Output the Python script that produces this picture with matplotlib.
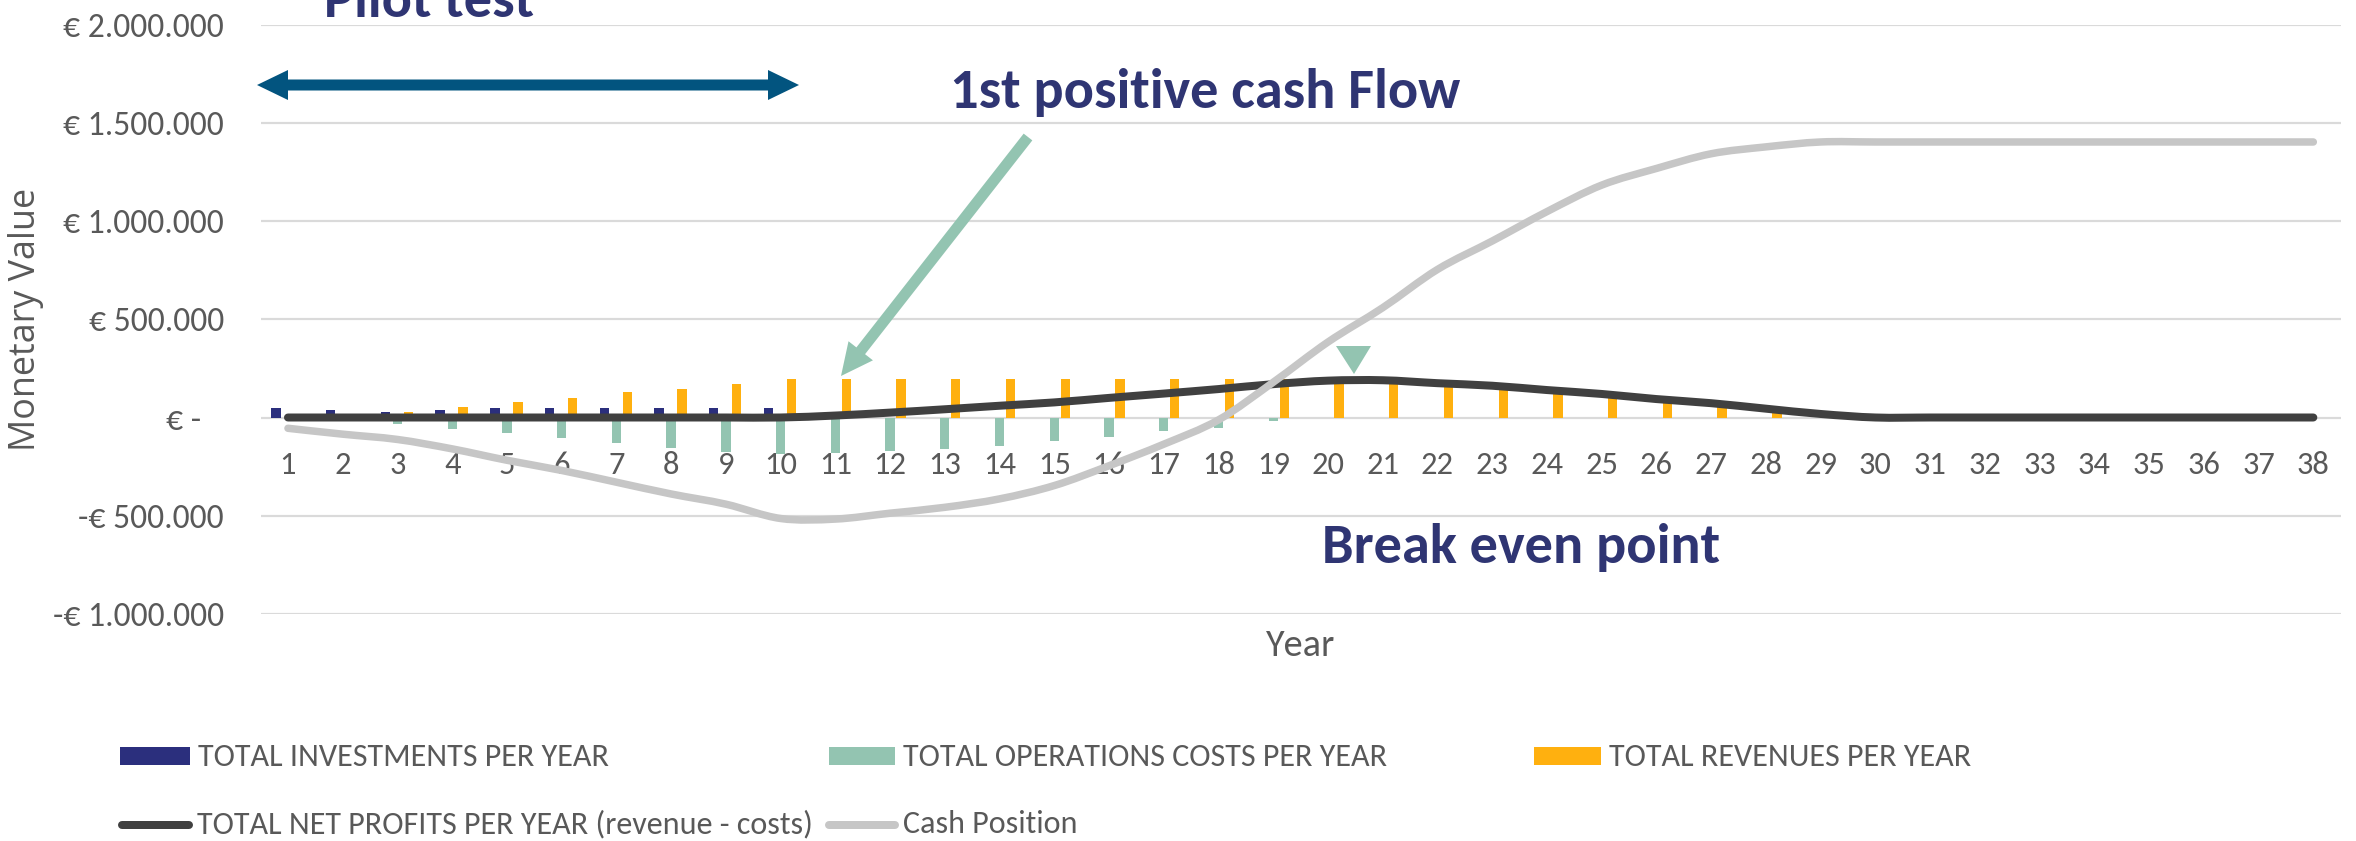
import numpy as np
import matplotlib
matplotlib.use("Agg")
import matplotlib.pyplot as plt
from matplotlib import font_manager as fm
from matplotlib.textpath import TextToPath
from matplotlib.patches import Polygon, Rectangle, PathPatch
from matplotlib.lines import Line2D
from matplotlib.path import Path

# ---------------- data (values in thousands of euro) ----------------
years = list(range(1, 39))
investments = [46, 37, 29, 39, 47, 47, 47, 47, 47, 47,
               0, 0, 0, 0, 0, 0, 0, 0, 0, 0,
               0, 0, 0, 0, 0, 0, 0, 0, 0, 0,
               0, 0, 0, 0, 0, 0, 0, 0]
operations_costs = [0, 0, -34, -59, -78, -105, -128, -157, -178, -187,
                    -180, -170, -161, -144, -119, -98, -68, -51, -20, 0,
                    0, 0, 0, 0, 0, 0, 0, 0, 0, 0,
                    0, 0, 0, 0, 0, 0, 0, 0]
revenues = [0, 0, 28, 51, 80, 98, 130, 147, 170, 197,
            197, 197, 197, 197, 197, 197, 197, 197, 197, 197,
            197, 175, 162, 140, 120, 94, 73, 45, 18, 0,
            0, 0, 0, 0, 0, 0, 0, 0]
net_profits = [0, 0, 0, 0, 0, 0, 0, 0, 0, 0,
               10, 25, 42, 60, 77, 100, 122, 145, 170, 188,
               190, 175, 162, 140, 120, 94, 73, 45, 18, 0,
               0, 0, 0, 0, 0, 0, 0, 0]
cash_position = [-55, -85, -112, -160, -218, -270, -330, -390, -442, -515,
                 -518, -488, -458, -415, -347, -246, -136, -12, 180, 385,
                 560, 755, 900, 1050, 1185, 1270, 1345, 1380, 1405, 1405,
                 1405, 1405, 1405, 1405, 1405, 1405, 1405, 1405]
ytick_values = [-1000, -500, 0, 500, 1000, 1500, 2000]
ytick_labels = ["-€ 1.000.000", "-€ 500.000", "€ -   ", "€ 500.000",
                "€ 1.000.000", "€ 1.500.000", "€ 2.000.000"]
xtick_labels = [str(y) for y in years]
legend_labels = ["TOTAL INVESTMENTS PER YEAR", "TOTAL OPERATIONS COSTS PER YEAR",
                 "TOTAL REVENUES PER YEAR",
                 "TOTAL NET PROFITS PER YEAR (revenue - costs)", "Cash Position"]
annotations = ["Pilot test", "1st positive cash Flow", "Break even point"]
x_title = "Year"
y_title = "Monetary Value"

# ---------------- style ----------------
NAVY = "#2B2F7D"
TEAL = "#93C4B1"
ORANGE = "#FFB00F"
NET = "#404040"
CASH = "#C6C6C6"
GRID = "#DADADA"
TXT = "#595959"
ANN = "#2F3573"
DARROW = "#02547F"

W, H = 2356, 841
PT = 0.72  # points per pixel at dpi 100

available = {f.name for f in fm.fontManager.ttflist}
def pick(*names):
    for n in names:
        if n in available:
            return n
    return "DejaVu Sans"

REG = pick("Carlito", "Lato", "Open Sans", "DejaVu Sans")
YLF = pick("Open Sans", "Liberation Sans", "DejaVu Sans")

ttp = TextToPath()
def fit(text, prop, target_px):
    p = prop.copy()
    p.set_size(40)
    w, h, d = ttp.get_text_width_height_descent(text, p, ismath=False)
    return 40 * target_px * PT / w

reg_prop = fm.FontProperties(family=REG)
bold_prop = fm.FontProperties(family=REG, weight="bold")
yl_prop = fm.FontProperties(family=YLF)

ytick_size = fit("€ 2.000.000", reg_prop, 161)
xtick_size = fit("38", reg_prop, 33)
legend_size = fit(legend_labels[0], reg_prop, 412)
xtitle_size = fit(x_title, reg_prop, 69)
ytitle_size = fit(y_title, yl_prop, 263)
ann_size = fit(annotations[1], bold_prop, 510)

fig = plt.figure(figsize=(W / 100, H / 100), dpi=100)
x_left, x_right = 260.6, 2340.7
y_top, y_bot = 25.3, 613.6
ax = fig.add_axes([x_left / W, 1 - y_bot / H, (x_right - x_left) / W, (y_bot - y_top) / H])

yrs = np.array(years, dtype=float)
k = 1000.0
bw = 0.17
ax.bar(yrs - 0.22, np.array(investments) * k, width=bw, color=NAVY, zorder=2)
ax.bar(yrs, np.array(operations_costs) * k, width=bw, color=TEAL, zorder=2)
ax.bar(yrs + 0.20, np.array(revenues) * k, width=bw, color=ORANGE, zorder=2)


def smooth_path(x, y):
    """Excel-style smoothed line: cubic Bezier through every data point."""
    x = np.asarray(x, float)
    y = np.asarray(y, float)
    pts = np.column_stack([x, y])
    n = len(pts)
    verts = [pts[0]]
    codes = [Path.MOVETO]
    for i in range(n - 1):
        p0 = pts[i - 1] if i > 0 else pts[i]
        p1 = pts[i]
        p2 = pts[i + 1]
        p3 = pts[i + 2] if i + 2 < n else pts[i + 1]
        c1 = p1 + (p2 - p0) / 6.0
        c2 = p2 - (p3 - p1) / 6.0
        verts += [c1, c2, p2]
        codes += [Path.CURVE4] * 3
    return Path(verts, codes)


for series, color, lw, z in [(net_profits, NET, 8, 3), (cash_position, CASH, 7.5, 4)]:
    patch = PathPatch(smooth_path(yrs, np.array(series) * k), facecolor="none",
                      edgecolor=color, lw=lw * PT, capstyle="round", joinstyle="round",
                      zorder=z)
    ax.add_patch(patch)

ax.set_xlim(0.5, 38.5)
ax.set_ylim(-1000 * k, 2000 * k)
ax.set_yticks(np.array(ytick_values) * k)
ax.set_yticklabels(ytick_labels)
ax.set_xticks(yrs)
ax.set_xticklabels(xtick_labels)
for s in ax.spines.values():
    s.set_visible(False)
ax.spines["bottom"].set_position(("data", 0))
ax.grid(axis="y", color=GRID, lw=2.2 * PT, zorder=0)
ax.set_axisbelow(True)
ax.tick_params(axis="y", length=0, pad=36.6 * PT, colors=TXT)
ax.tick_params(axis="x", length=0, pad=33 * PT, colors=TXT)
for lbl in ax.get_yticklabels():
    lbl.set_fontproperties(reg_prop)
    lbl.set_fontsize(ytick_size)
for lbl in ax.get_xticklabels():
    lbl.set_fontproperties(reg_prop)
    lbl.set_fontsize(xtick_size)

ax.set_xlabel(x_title, fontproperties=reg_prop, fontsize=xtitle_size, color=TXT)
ax.xaxis.label.set_va("center")
ax.xaxis.set_label_coords(0.5, (y_bot - 645) / (y_bot - y_top))
ax.set_ylabel(y_title, fontproperties=yl_prop, fontsize=ytitle_size, color=TXT)
ax.yaxis.label.set_va("center")
ax.yaxis.set_label_coords((26 - x_left) / (x_right - x_left), (y_bot - 319) / (y_bot - y_top))

def F(pts):
    return [(x / W, 1 - y / H) for x, y in pts]

def arrow_poly(p0, p1, sw, hw, hl):
    p0 = np.array(p0, float); p1 = np.array(p1, float)
    d = p1 - p0
    u = d / np.linalg.norm(d)
    n = np.array([-u[1], u[0]])
    b = p1 - u * hl
    return [p0 + n * sw / 2, b + n * sw / 2, b + n * hw / 2, p1,
            b - n * hw / 2, b - n * sw / 2, p0 - n * sw / 2]

# double arrow (pilot test)
dbl = [(257, 85), (288, 70), (288, 79.5), (768, 79.5), (768, 70), (799, 85),
       (768, 100), (768, 90.5), (288, 90.5), (288, 100)]
fig.add_artist(Polygon(F(dbl), closed=True, transform=fig.transFigure, fc=DARROW, ec="none"))

# teal arrow (1st positive cash flow)
tarr = arrow_poly((1028, 137), (841, 376), 11, 31, 32)
fig.add_artist(Polygon(F(tarr), closed=True, transform=fig.transFigure, fc=TEAL, ec="none"))

# break-even triangle
tri = [(1336, 346), (1371, 346), (1354, 374)]
fig.add_artist(Polygon(F(tri), closed=True, transform=fig.transFigure, fc=TEAL, ec="none"))

fig.text(324 / W, 1 - 17 / H, annotations[0], fontproperties=bold_prop, fontsize=ann_size,
         color=ANN, ha="left", va="baseline")
fig.text(950 / W, 1 - 108 / H, annotations[1], fontproperties=bold_prop, fontsize=ann_size,
         color=ANN, ha="left", va="baseline")
fig.text(1322 / W, 1 - 563 / H, annotations[2], fontproperties=bold_prop, fontsize=ann_size,
         color=ANN, ha="left", va="baseline")

# legend (manual layout like Excel)
def leg_patch(x0, x1, yc, color, label):
    fig.add_artist(Rectangle((x0 / W, 1 - (yc + 9) / H), (x1 - x0) / W, 18 / H,
                             transform=fig.transFigure, fc=color, ec="none"))
    fig.text((x1 + 8) / W, 1 - (yc + 10.5) / H, label, fontproperties=reg_prop,
             fontsize=legend_size, color=TXT, ha="left", va="baseline")

def leg_line(x0, x1, yc, color, label):
    fig.add_artist(Line2D([x0 / W, x1 / W], [1 - yc / H, 1 - yc / H], transform=fig.transFigure,
                          color=color, lw=8 * PT, solid_capstyle="round"))
    fig.text((x1 + 8) / W, 1 - (yc + 8) / H, label, fontproperties=reg_prop,
             fontsize=legend_size, color=TXT, ha="left", va="baseline")

leg_patch(120, 190, 756, NAVY, legend_labels[0])
leg_patch(829, 895, 756, TEAL, legend_labels[1])
leg_patch(1534, 1601, 756, ORANGE, legend_labels[2])
leg_line(122, 189, 825, NET, legend_labels[3])
leg_line(829, 895, 825, CASH, legend_labels[4])

fig.savefig("out.png", dpi=100, facecolor="white")
